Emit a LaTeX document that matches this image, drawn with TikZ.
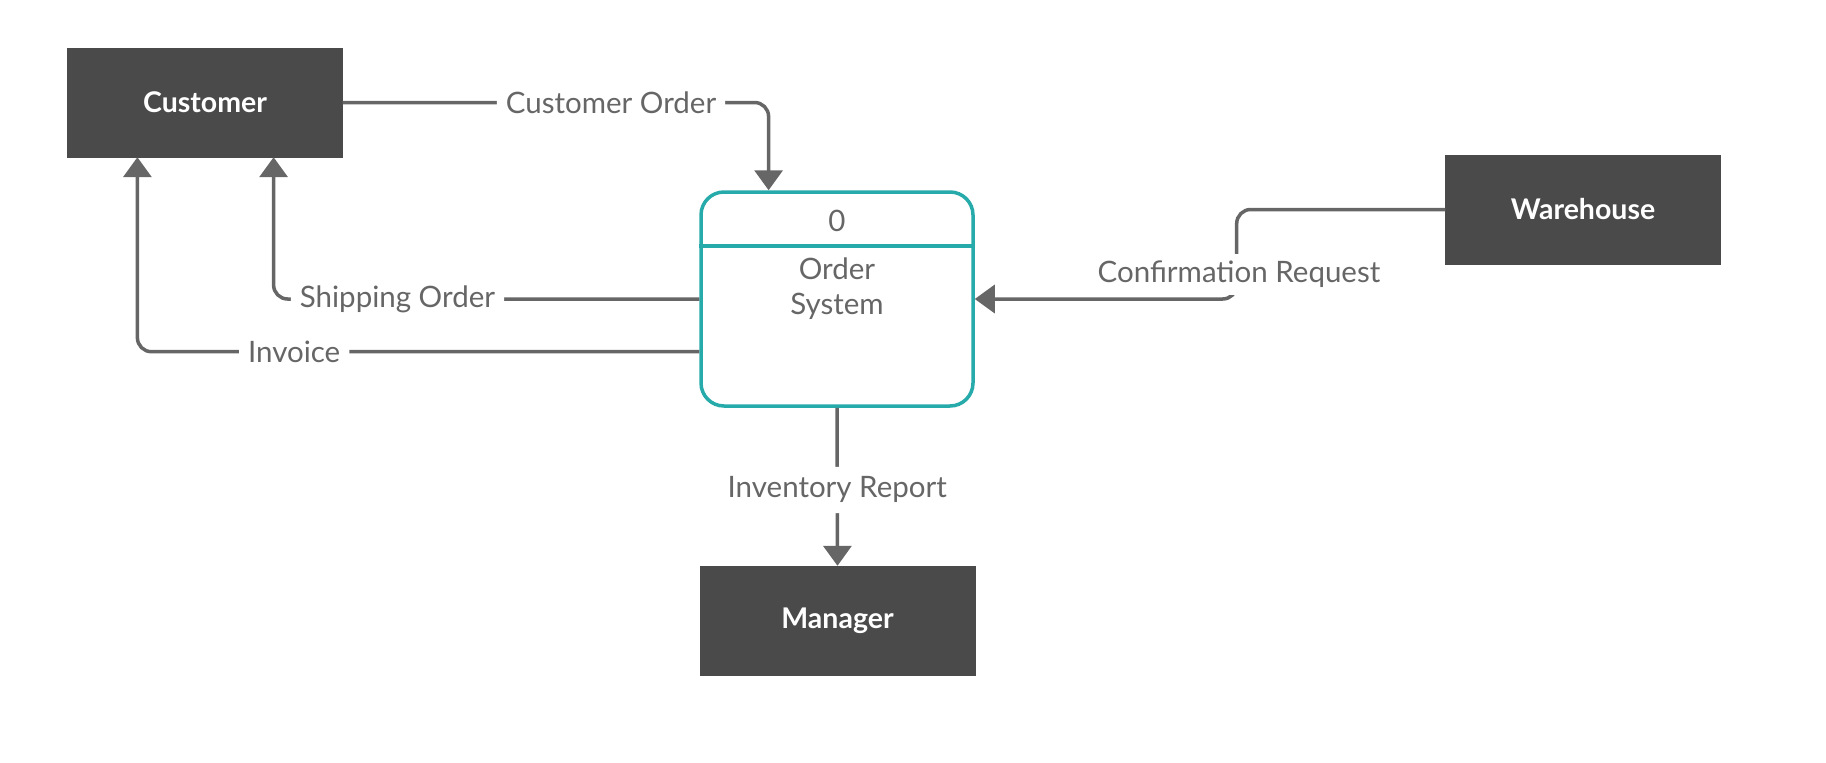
\documentclass[tikz,border=0pt]{standalone}
\usepackage{fontspec}
\setmainfont{Lato}
\usetikzlibrary{arrows.meta}
\definecolor{boxfill}{HTML}{4A4A4A}
\definecolor{linegray}{HTML}{666666}
\definecolor{systeal}{RGB}{38,170,170}
\begin{document}
\begin{tikzpicture}[x=1pt,y=-1pt,
 ent/.style={fill=boxfill, draw=boxfill, minimum width=275pt, minimum height=109pt, text=white, font=\fontsize{28.5}{32}\selectfont\bfseries, inner sep=0pt},
 flow/.style={draw=linegray, line width=3.5pt, rounded corners=14pt, -{Triangle[width=28pt,length=20pt]}},
 lbl/.style={fill=white, text=linegray, font=\fontsize{29.5}{34}\selectfont, inner xsep=9pt, inner ysep=10pt},
 systext/.style={text=linegray, align=center, font=\fontsize{29.5}{35}\selectfont}]
\useasboundingbox (0,0) rectangle (1826,763);
\node[ent] (cust) at (205,102.5) {Customer};
\node[ent] (ware) at (1583,209.5) {Warehouse};
\node[ent] (mgr) at (837.5,620.5) {Manager};
\node[draw=systeal, line width=3.5pt, rounded corners=23pt, minimum width=272pt, minimum height=214pt] (sys) at (837,299) {};
\coordinate (divy) at (0,246);
\draw[systeal, line width=3.5pt] (sys.west |- divy) -- (sys.east |- divy);
\node[systext] (zero) at (837,221) {0};
\node[systext] (name) at (837,288.5) {Order\\System};
% Customer Order
\coordinate (cocorner) at (768.6,102.5);
\draw[flow] (cust.east) -- node[lbl,pos=0.63]{Customer Order} (cocorner) -- (cocorner |- sys.north);
% Shipping Order
\coordinate (shipx) at (273.6,0);
\draw[flow] (sys.west) -- node[lbl,pos=0.709]{Shipping Order} (shipx |- sys.west) -- (shipx |- cust.south);
% Invoice
\coordinate (invx) at (137.4,351.7);
\draw[flow] (sys.west |- invx) -- node[lbl,pos=0.721]{Invoice} (invx) -- (invx |- cust.south);
% Confirmation Request
\coordinate (crx) at (1236.7,0);
\draw[flow] (ware.west) -- (crx |- ware.west) -- (crx |- sys.east) -- (sys.east);
\node[lbl, inner ysep=7.5pt] (crlbl) at (1239,274.5) {Confirmation Request};
% Inventory Report
\draw[flow] (sys.south) -- node[lbl,pos=0.52]{Inventory Report} (mgr.north);
\end{tikzpicture}
\end{document}
